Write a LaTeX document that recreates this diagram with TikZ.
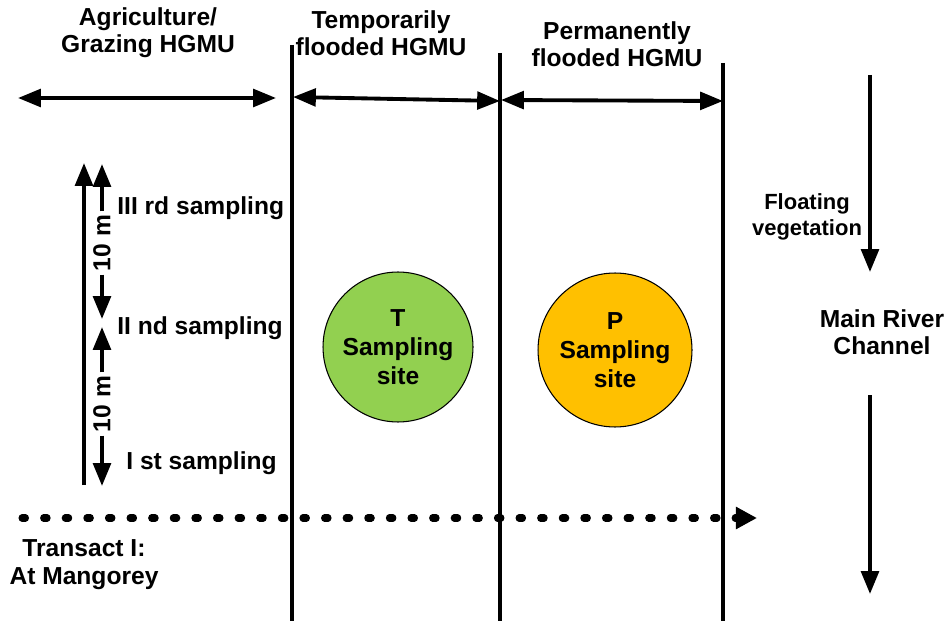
\documentclass[tikz,border=0pt]{standalone}
\usepackage{fontspec}
\setmainfont{Liberation Sans}
\usetikzlibrary{arrows.meta,positioning}
\definecolor{sitegreen}{HTML}{92D050}
\definecolor{siteorange}{HTML}{FFC000}

\begin{document}
\begin{tikzpicture}[x=0.02cm,y=-0.02cm,
  txt/.style={font=\bfseries\fontsize{14}{15.5}\selectfont,align=center,inner sep=0pt},
  arr/.style={line width=2.2pt,-{Triangle[length=13pt,width=10pt]}},
  darr/.style={line width=2.2pt,{Triangle[length=13pt,width=10pt]}-{Triangle[length=13pt,width=10pt]}},
  bound/.style={line width=1.8pt},
  site/.style={circle,draw,line width=0.6pt,minimum size=3cm,inner sep=0pt,align=center,
    font=\bfseries\fontsize{14}{16.5}\selectfont}]
\useasboundingbox (0,0) rectangle (949,621);
% limites des HGMU
\foreach \n/\x/\y in {1/292/45,2/500/53,3/723/63}{
  \coordinate (t\n) at (\x,\y); \coordinate (b\n) at (\x,621);
  \draw[bound] (t\n)--(b\n);}
\node[txt] (agri) at (148,33) {Agriculture/\\Grazing HGMU};
\node[txt] (temp) at (381,33) {Temporarily\\flooded HGMU};
\node[txt] (perm) at (617,44) {Permanently\\flooded HGMU};
\coordinate (a0) at (18,98); \coordinate (a1) at (276,98);
\coordinate (a2) at (293,97); \coordinate (a3) at (500,101);
\coordinate (a4) at (501,100); \coordinate (a5) at (723,101);
\draw[darr] (a0)--(a1); \draw[darr] (a2)--(a3); \draw[darr] (a4)--(a5);
% prelevements
\coordinate (v0) at (84,485); \coordinate (v1) at (84,163);
\draw[arr] (v0)--(v1);
\node[txt,rotate=90,outer sep=2pt] (m1) at (102,243) {10 m};
\node[txt,rotate=90,outer sep=2pt] (m2) at (102,404) {10 m};
\coordinate (s3) at (102,164); \coordinate (s2a) at (102,319);
\coordinate (s2b) at (102,327); \coordinate (s1) at (102,486);
\draw[arr] (m1.east)--(s3); \draw[arr] (m1.west)--(s2a);
\draw[arr] (m2.east)--(s2b); \draw[arr] (m2.west)--(s1);
\node[txt,anchor=west] (l3) at (117,208) {III rd sampling};
\node[txt,anchor=west] (l2) at (117,328) {II nd sampling};
\node[txt,anchor=west] (l1) at (126,463) {I st sampling};
% sites
\node[site,fill=sitegreen] (T) at (398,347) {T\\Sampling\\site};
\node[site,fill=siteorange,minimum size=3.08cm] (P) at (615,350) {P\\Sampling\\site};
% transect
\coordinate (d0) at (22,518); \coordinate (d1) at (757,518);
\draw[line width=4pt,line cap=round,dash pattern=on 2pt off 10.3pt,
  -{Triangle[length=12pt,width=12pt]}] (d0)--(d1);
\node[txt,font=\bfseries\fontsize{14}{16}\selectfont] (tr) at (84,565) {Transact I:\\At Mangorey};
% riviere
\node[txt,font=\bfseries\fontsize{12.5}{15}\selectfont] (flo) at (807,217) {Floating\\vegetation};
\node[txt] (riv) at (882,332) {Main River\\Channel};
\coordinate (r0) at (870,75); \coordinate (r1) at (870,272);
\coordinate (r2) at (870,395); \coordinate (r3) at (870,594);
\draw[arr] (r0)--(r1); \draw[arr] (r2)--(r3);
\end{tikzpicture}
\end{document}
